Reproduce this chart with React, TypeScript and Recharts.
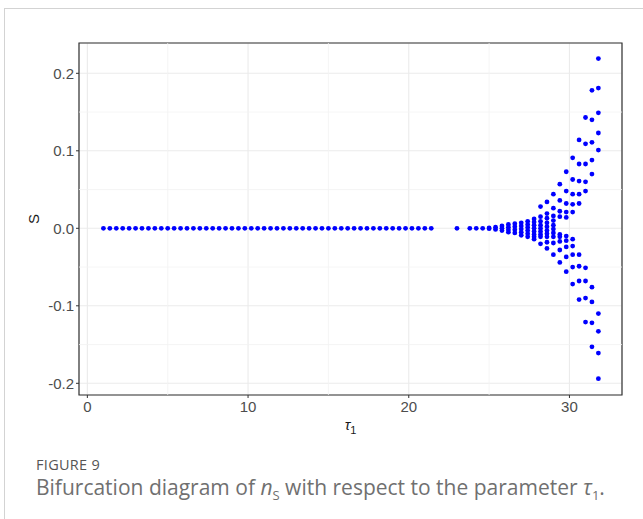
import { ScatterChart, Scatter, XAxis, YAxis, CartesianGrid, ReferenceLine, ReferenceArea, Label } from "recharts";

// tau values on the flat branch (S = 0)
const flatTau = [
  1.0, 1.4, 1.8, 2.2, 2.6, 3.0, 3.4, 3.8, 4.2, 4.6, 5.0, 5.4, 5.8, 6.2, 6.6, 7.0, 7.4, 7.8, 8.2, 8.6,
  9.0, 9.4, 9.8, 10.2, 10.6, 11.0, 11.4, 11.8, 12.2, 12.6, 13.0, 13.4, 13.8, 14.2, 14.6, 15.0, 15.4,
  15.8, 16.2, 16.6, 17.0, 17.4, 17.8, 18.2, 18.6, 19.0, 19.4, 19.8, 20.2, 20.6, 21.0, 21.4, 23.0,
  23.8, 24.2, 24.6,
];

// tau values where the solution starts to oscillate
const branchTau = [25.0, 25.4, 25.8, 26.2, 26.6, 27.0, 27.4, 27.8, 28.2, 28.6, 29.0, 29.4, 29.8, 30.2, 30.6, 31.0, 31.4, 31.8];

// S values (extrema) for each branch tau
const branchS = [
  [0.0005, -0.0005],
  [0.0015, -0.0015],
  [0.003, 0, -0.003],
  [0.005, 0.0015, -0.002, -0.005],
  [0.006, 0.002, -0.002, -0.006],
  [0.007, 0.003, -0.001, -0.005, -0.009],
  [0.009, 0.005, 0.001, -0.003, -0.007, -0.011],
  [0.012, 0.008, 0.004, 0.0, -0.004, -0.008, -0.011, -0.014],
  [0.028, 0.015, 0.009, 0.004, 0.0, -0.004, -0.008, -0.011, -0.02],
  [0.034, 0.019, 0.013, 0.007, 0.002, -0.003, -0.007, -0.011, -0.018, -0.026],
  [0.044, 0.026, 0.016, 0.01, 0.004, -0.001, -0.006, -0.011, -0.019, -0.034],
  [0.057, 0.036, 0.022, 0.015, -0.008, -0.011, -0.017, -0.028, -0.044],
  [0.073, 0.048, 0.032, 0.021, 0.014, -0.01, -0.016, -0.024, -0.037, -0.056],
  [0.091, 0.063, 0.044, 0.031, 0.021, -0.014, -0.023, -0.034, -0.05, -0.072],
  [0.114, 0.083, 0.061, 0.044, 0.032, -0.034, -0.049, -0.068, -0.092],
  [0.143, 0.109, 0.083, 0.06, 0.048, -0.051, -0.068, -0.09, -0.121],
  [0.178, 0.14, 0.111, 0.088, 0.07, -0.076, -0.095, -0.122, -0.153],
  [0.219, 0.181, 0.149, 0.123, 0.101, -0.11, -0.133, -0.161, -0.194],
];

const xTicks = [0, 10, 20, 30];
const xMinor = [5, 15, 25];
const yTicks = [-0.2, -0.1, 0, 0.1, 0.2];
const yMinor = [-0.15, -0.05, 0.05, 0.15];

const X_MIN = -0.52;
const X_MAX = 33.27;
const Y_MIN = -0.2151;
const Y_MAX = 0.2391;

const points = [
  ...flatTau.map((t) => ({ tau: t, s: 0 })),
  ...branchTau.flatMap((t, i) => branchS[i].map((s) => ({ tau: t, s }))),
];

const tickFont = { fontSize: 15, fill: "#4d4d4d", fontFamily: "Liberation Sans, Arial, sans-serif" };

const Dot = (props: any) => <circle cx={props.cx} cy={props.cy} r={2.4} fill="#0000ff" />;

export default function App() {
  return (
    <div style={{ position: "absolute", left: 0, top: 0, width: 643, height: 519, background: "#fff" }}>
      <div
        style={{
          position: "absolute",
          left: 4,
          top: 8,
          right: 0,
          bottom: 0,
          borderLeft: "1px solid #d3d3d3",
          borderTop: "1px solid #d3d3d3",
        }}
      />
      <div style={{ position: "absolute", left: 0, top: 0 }}>
        <ScatterChart width={643} height={440} margin={{ top: 43, right: 21, left: 0, bottom: 0 }}>
          <CartesianGrid stroke="#ebebeb" strokeWidth={1.1} />
          {xMinor.map((v) => (
            <ReferenceLine key={`xm-${v}`} x={v} stroke="#f2f2f2" strokeWidth={0.8} />
          ))}
          {yMinor.map((v) => (
            <ReferenceLine key={`ym-${v}`} y={v} stroke="#f2f2f2" strokeWidth={0.8} />
          ))}
          <XAxis
            type="number"
            dataKey="tau"
            domain={[X_MIN, X_MAX]}
            ticks={xTicks}
            allowDataOverflow
            height={45}
            axisLine={false}
            tickLine={{ stroke: "#333" }}
            tickSize={3}
            tickMargin={3}
            tick={tickFont}
          >
            <Label
              content={({ viewBox }: any) => (
                <text x={viewBox.x + viewBox.width / 2} y={430} textAnchor="middle" fontFamily="Liberation Sans, Arial, sans-serif" fontSize={15} fill="#1a1a1a">
                  <tspan fontStyle="italic">τ</tspan>
                  <tspan fontSize={11} dy={4}>1</tspan>
                </text>
              )}
            />
          </XAxis>
          <YAxis
            type="number"
            dataKey="s"
            domain={[Y_MIN, Y_MAX]}
            ticks={yTicks}
            allowDataOverflow
            width={79}
            axisLine={false}
            tickLine={{ stroke: "#333" }}
            tickSize={3}
            tickMargin={2}
            tick={tickFont}
            tickFormatter={(v: number) => v.toFixed(1)}
          >
            <Label
              content={() => (
                <text x={0} y={0} transform="translate(39,219) rotate(-90)" textAnchor="middle" fontFamily="Liberation Sans, Arial, sans-serif" fontSize={15} fill="#1a1a1a">
                  S
                </text>
              )}
            />
          </YAxis>
          <Scatter data={points} fill="#0000ff" shape={Dot} isAnimationActive={false} />
          <ReferenceArea x1={X_MIN} x2={X_MAX} y1={Y_MIN} y2={Y_MAX} fill="none" stroke="#333" strokeWidth={1.2} />
        </ScatterChart>
      </div>
      <div
        style={{
          position: "absolute",
          left: 36,
          top: 457,
          fontFamily: "Open Sans, Noto Sans, sans-serif",
          fontSize: 14.5,
          lineHeight: "16px",
          color: "#555",
          letterSpacing: 0.3,
        }}
      >
        FIGURE 9
      </div>
      <div
        style={{
          position: "absolute",
          left: 36,
          top: 476,
          fontFamily: "Open Sans, Noto Sans, sans-serif",
          fontSize: 21,
          lineHeight: "22px",
          color: "#707070",
          whiteSpace: "nowrap",
        }}
      >
        Bifurcation diagram of <i>n</i>
        <sub style={{ fontSize: 13, lineHeight: 0 }}>S</sub> with respect to the parameter <i>τ</i>
        <sub style={{ fontSize: 13, lineHeight: 0 }}>1</sub>.
      </div>
    </div>
  );
}
